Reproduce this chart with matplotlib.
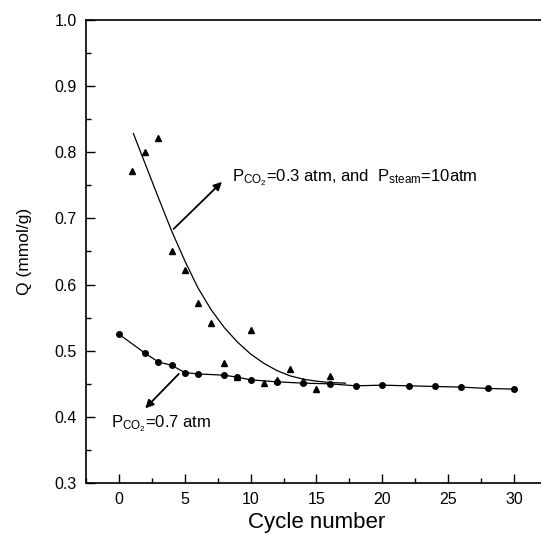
import numpy as np
import matplotlib
matplotlib.use("Agg")
import matplotlib.pyplot as plt
from matplotlib.ticker import MultipleLocator, FormatStrFormatter

plt.rcParams.update({
    "font.family": ["Liberation Sans", "DejaVu Sans"],
    "mathtext.fontset": "custom",
    "mathtext.rm": "Liberation Sans",
    "mathtext.it": "Liberation Sans",
    "font.size": 11.5,
})

# P_CO2 = 0.7 atm (circles)
cyc_07 = [0, 2, 3, 4, 5, 6, 8, 9, 10, 12, 14, 16, 18, 20, 22, 24, 26, 28, 30]
q_07 = [0.525, 0.496, 0.483, 0.478, 0.467, 0.465, 0.463, 0.460, 0.456, 0.453,
        0.451, 0.450, 0.447, 0.448, 0.447, 0.446, 0.445, 0.443, 0.442]

# P_CO2 = 0.3 atm, P_steam = 10 atm (triangles)
cyc_03 = [1, 2, 3, 4, 5, 6, 7, 8, 9, 10, 11, 12, 13, 14, 15, 16]
q_03 = [0.771, 0.801, 0.821, 0.651, 0.622, 0.572, 0.542, 0.482, 0.460, 0.532,
        0.452, 0.456, 0.472, 0.454, 0.442, 0.462]

# fitted curve through the triangles
fit_x = [1.1, 2, 3, 4, 5, 6, 7, 8, 9, 10, 11, 12, 13, 14, 15, 16, 17.2]
fit_q = [0.828, 0.782, 0.731, 0.681, 0.636, 0.595, 0.562, 0.535, 0.513,
         0.495, 0.481, 0.470, 0.462, 0.457, 0.454, 0.452, 0.451]

fig = plt.figure(figsize=(5.41, 5.35), dpi=100)
ax = fig.add_axes([0.159, 0.097, 0.852, 0.866])

ax.plot(cyc_07, q_07, "-o", color="black", lw=0.9, ms=4)
ax.plot(fit_x, fit_q, "-", color="black", lw=0.9)
ax.plot(cyc_03, q_03, "^", color="black", ms=5, ls="none")

ax.set_xlim(-2.5, 32.5)
ax.set_ylim(0.3, 1.0)
ax.xaxis.set_major_locator(MultipleLocator(5))
ax.xaxis.set_minor_locator(MultipleLocator(2.5))
ax.yaxis.set_major_locator(MultipleLocator(0.1))
ax.yaxis.set_minor_locator(MultipleLocator(0.05))
ax.yaxis.set_major_formatter(FormatStrFormatter("%.1f"))
ax.tick_params(which="both", direction="in", top=False, right=False)
ax.tick_params(which="major", length=6.5, width=1, pad=6.5)
ax.tick_params(which="minor", length=3.5, width=1)
for s in ax.spines.values():
    s.set_linewidth(1.2)

ax.set_xlabel("Cycle number", fontsize=16, labelpad=3.5)
ax.set_ylabel("Q (mmol/g)", fontsize=12.5, labelpad=16)

ax.annotate("", xy=(7.97, 0.758), xytext=(4.0, 0.681),
            arrowprops=dict(arrowstyle="-|>", color="black", lw=1.3,
                            mutation_scale=12))
ax.text(8.6, 0.762, r"P$_{\mathrm{CO_2}}$=0.3 atm, and  P$_{\mathrm{steam}}$=10atm",
        fontsize=12, va="center", ha="left")

ax.annotate("", xy=(1.85, 0.410), xytext=(4.69, 0.468),
            arrowprops=dict(arrowstyle="-|>", color="black", lw=1.3,
                            mutation_scale=12))
ax.text(-0.63, 0.389, r"P$_{\mathrm{CO_2}}$=0.7 atm", fontsize=12,
        va="center", ha="left")

fig.savefig("out.png", dpi=100, facecolor="white")
